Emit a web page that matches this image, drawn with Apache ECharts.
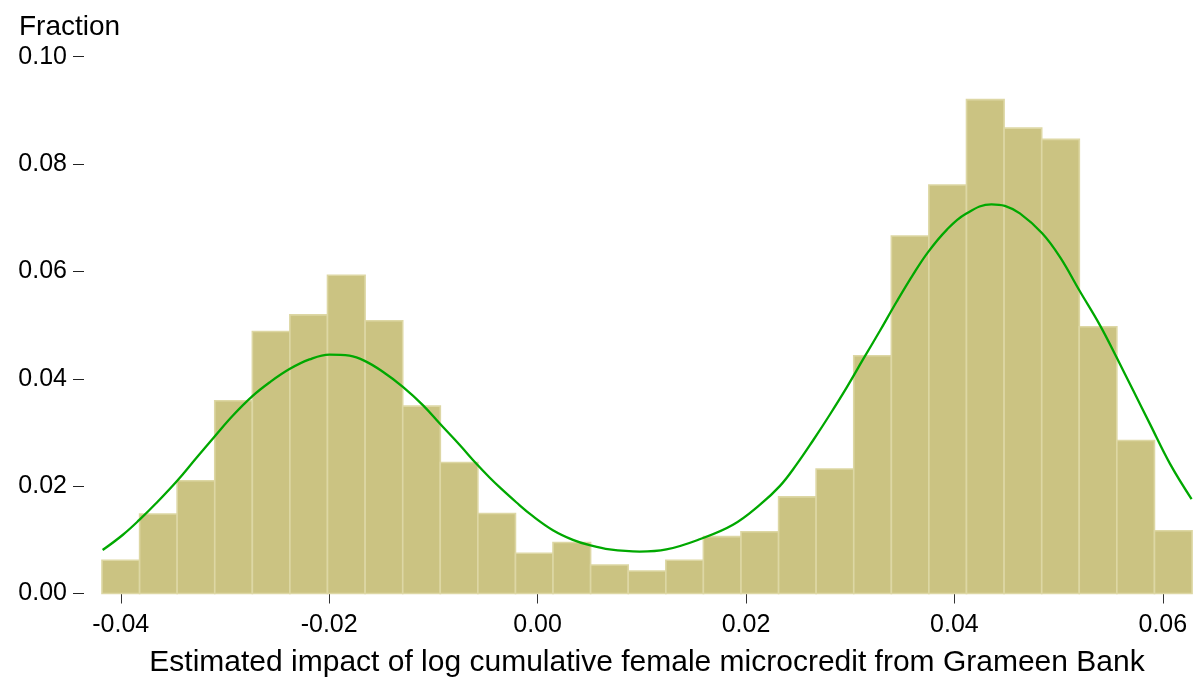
<!DOCTYPE html>
<html>
<head>
<meta charset="utf-8">
<script src="https://cdn.jsdelivr.net/npm/echarts@6/dist/echarts.min.js"></script>
<style>
  html, body { margin: 0; padding: 0; background: #fff; }
  #chart { width: 1197px; height: 687px; }
</style>
</head>
<body>
<div id="chart"></div>
<script>
// Histogram bins: left edges and common width
const binStart = [-0.0418, -0.03819, -0.03459, -0.03098, -0.02737, -0.02377, -0.02016, -0.01655,
  -0.01294, -0.00934, -0.00573, -0.00212, 0.00148, 0.00509, 0.0087, 0.01231, 0.01591, 0.01952,
  0.02313, 0.02673, 0.03034, 0.03395, 0.03755, 0.04116, 0.04477, 0.04838, 0.05198, 0.05559, 0.0592];
const binWidth = 0.003607;
const fraction = [0.0062, 0.0148, 0.0210, 0.0359, 0.0488, 0.0519, 0.0593, 0.0508, 0.0349, 0.0244,
  0.0149, 0.0075, 0.0095, 0.0053, 0.0042, 0.0062, 0.0106, 0.0115, 0.0180, 0.0232,
  0.0443, 0.0666, 0.0761, 0.0920, 0.0867, 0.0846, 0.0497, 0.0285, 0.0117];

// Density curve
const densityX = [-0.04174, -0.03982, -0.03822, -0.03661, -0.03454, -0.03277, -0.03101, -0.02926,
  -0.02734, -0.02573, -0.02381, -0.02189, -0.01997, -0.01805, -0.01645, -0.01485, -0.01293,
  -0.01101, -0.00941, -0.00749, -0.00589, -0.00461, -0.00365, -0.00205, -0.00045, 0.00147,
  0.00339, 0.00499, 0.00691, 0.00979, 0.01236, 0.01555, 0.01875, 0.02132, 0.02324, 0.02484,
  0.02643, 0.02804, 0.02964, 0.03123, 0.03284, 0.03444, 0.03603, 0.03747, 0.03924, 0.04107,
  0.04356, 0.04484, 0.04628, 0.04842, 0.05012, 0.05204, 0.05396, 0.05556, 0.05716, 0.05876,
  0.06068, 0.06276];
const densityY = [0.0081, 0.0109, 0.0137, 0.0168, 0.0211, 0.0252, 0.0292, 0.0331,
  0.0368, 0.0393, 0.0418, 0.0436, 0.0445, 0.0443, 0.0432, 0.0413, 0.0385,
  0.0351, 0.0317, 0.0277, 0.0242, 0.0216, 0.0198, 0.0170, 0.0144, 0.0118,
  0.0100, 0.0090, 0.0082, 0.0078, 0.0082, 0.0101, 0.0128, 0.0165, 0.0200, 0.0240,
  0.0285, 0.0333, 0.0383, 0.0436, 0.0489, 0.0543, 0.0594, 0.0636, 0.0677, 0.0707,
  0.0725, 0.0722, 0.0708, 0.0671, 0.0627, 0.0563, 0.0500, 0.0440, 0.0378, 0.0316,
  0.0242, 0.0176];

const xTicks = [-0.04, -0.02, 0.00, 0.02, 0.04, 0.06];
const yTicks = [0.00, 0.02, 0.04, 0.06, 0.08, 0.10];
const xTitle = 'Estimated impact of log cumulative female microcredit from Grameen Bank';
const yTitle = 'Fraction';

const FONT = '"Liberation Sans", Arial, Helvetica, sans-serif';

const barData = binStart.map((s, i) => [s, s + binWidth, fraction[i]]);
const lineData = densityX.map((x, i) => [x, densityY[i]]);

const chart = echarts.init(document.getElementById('chart'), null, { renderer: 'canvas' });
chart.setOption({
  animation: false,
  backgroundColor: '#ffffff',
  textStyle: { fontFamily: FONT },
  title: {
    text: yTitle,
    left: 14,
    top: 8,
    textStyle: { fontFamily: FONT, fontSize: 28, fontWeight: 'normal', color: '#000' }
  },
  grid: { left: 102, right: 5, top: 56.7, bottom: 93.5, containLabel: false, outerBoundsMode: 'none' },
  xAxis: {
    type: 'value',
    position: 'bottom',
    min: -0.0418,
    max: 0.0628,
    axisLine: { show: false, onZero: false },
    splitLine: { show: false },
    axisTick: { show: true, length: 10, customValues: xTicks, lineStyle: { color: '#333', width: 1 } },
    axisLabel: {
      customValues: xTicks,
      formatter: v => v.toFixed(2),
      fontSize: 25, color: '#000', margin: 19, fontFamily: FONT
    },
    name: xTitle,
    nameLocation: 'middle',
    nameGap: 54,
    nameTextStyle: { fontSize: 30, color: '#000', fontFamily: FONT }
  },
  yAxis: {
    type: 'value',
    min: 0,
    max: 0.1,
    interval: 0.02,
    offset: 18,
    axisLine: { show: false, onZero: false },
    splitLine: { show: false },
    axisTick: { show: true, length: 11, customValues: yTicks, lineStyle: { color: '#222', width: 1 } },
    axisLabel: {
      customValues: yTicks,
      formatter: v => v.toFixed(2),
      fontSize: 25, color: '#000', margin: 17, fontFamily: FONT
    }
  },
  series: [
    {
      type: 'custom',
      z: 2,
      data: barData,
      encode: { x: [0, 1], y: 2 },
      renderItem: function (params, api) {
        const p0 = api.coord([api.value(0), api.value(2)]);
        const p1 = api.coord([api.value(1), 0]);
        return {
          type: 'rect',
          shape: { x: p0[0], y: p0[1], width: p1[0] - p0[0], height: p1[1] - p0[1] },
          style: { fill: '#CBC382', stroke: '#DDD7A4', lineWidth: 1.6 }
        };
      }
    },
    {
      type: 'line',
      z: 3,
      data: lineData,
      smooth: 0.4,
      showSymbol: false,
      lineStyle: { color: '#00A800', width: 2.3 }
    }
  ]
});
</script>
</body>
</html>
